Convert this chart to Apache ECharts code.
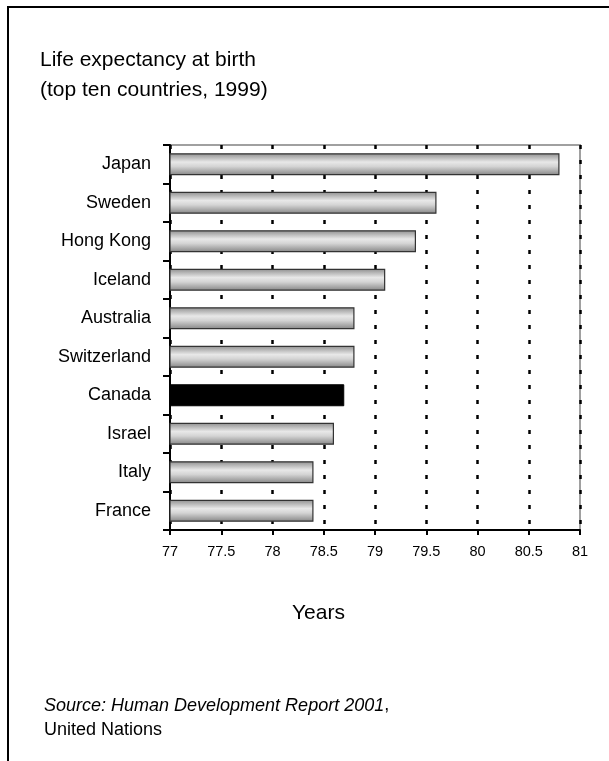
<!DOCTYPE html>
<html>
<head>
<meta charset="utf-8">
<script src="https://cdn.jsdelivr.net/npm/echarts@6/dist/echarts.min.js"></script>
<style>
html,body{margin:0;padding:0;background:#fff;}
#chart{width:609px;height:761px;}
</style>
</head>
<body>
<div id="chart"></div>
<script>
const countries = ['Japan','Sweden','Hong Kong','Iceland','Australia','Switzerland','Canada','Israel','Italy','France'];
const lifeExpectancy = [80.8, 79.6, 79.4, 79.1, 78.8, 78.8, 78.7, 78.6, 78.4, 78.4];
const highlighted = 'Canada';
const xMin = 77, xMax = 81, xStep = 0.5;

const FONT = '"Liberation Sans", Arial, sans-serif';
const grayGrad = {
  type: 'linear', x: 0, y: 0, x2: 0, y2: 1,
  colorStops: [
    {offset: 0, color: '#8e8e8e'},
    {offset: 0.4, color: '#e8e8e8'},
    {offset: 0.6, color: '#d4d4d4'},
    {offset: 1, color: '#858585'}
  ]
};

const chart = echarts.init(document.getElementById('chart'), null, {renderer: 'canvas'});
chart.setOption({
  animation: false,
  backgroundColor: '#fff',
  textStyle: {fontFamily: FONT},
  title: [
    {
      text: 'Life expectancy at birth\n(top ten countries, 1999)',
      left: 35, top: 40,
      textStyle: {fontFamily: FONT, fontSize: 21, fontWeight: 'normal', color: '#000', lineHeight: 30}
    },
    {
      text: 'Years',
      left: 287, top: 598,
      textStyle: {fontFamily: FONT, fontSize: 21, fontWeight: 'normal', color: '#000'}
    },
    {
      text: '{i|Source: Human Development Report 2001}{n|,}\n{n|United Nations}',
      left: 39, top: 688,
      textStyle: {
        fontFamily: FONT, fontSize: 18, fontWeight: 'normal', color: '#000', lineHeight: 25,
        rich: {
          i: {fontFamily: FONT, fontSize: 18, fontStyle: 'italic', fontWeight: 'normal', color: '#000', lineHeight: 25},
          n: {fontFamily: FONT, fontSize: 18, fontWeight: 'normal', color: '#000', lineHeight: 25}
        }
      }
    }
  ],
  graphic: [
    {type: 'polyline', silent: true, shape: {points: [[8, 761], [8, 7], [609, 7]]},
     style: {stroke: '#000', lineWidth: 2, fill: null}}
  ],
  grid: {
    left: 170, right: 29, top: 145, bottom: 231,
    show: true, borderColor: '#a0a0a0', borderWidth: 2, backgroundColor: '#fff'
  },
  xAxis: {
    type: 'value', min: xMin, max: xMax, interval: xStep,
    axisLine: {show: true, onZero: false, lineStyle: {color: '#000', width: 2}},
    axisTick: {show: true, length: 5, lineStyle: {color: '#000', width: 2}},
    axisLabel: {color: '#000', fontSize: 14.5, fontFamily: FONT, margin: 14},
    splitLine: {show: true, lineStyle: {color: '#000', width: 2.5, type: [4, 11]}}
  },
  yAxis: {
    type: 'category', data: countries, inverse: true,
    axisLine: {show: true, lineStyle: {color: '#000', width: 2}},
    axisTick: {show: true, length: 7, lineStyle: {color: '#000', width: 2}},
    axisLabel: {color: '#000', fontSize: 18, fontFamily: FONT, margin: 19},
    splitLine: {show: false}
  },
  series: [{
    type: 'bar',
    barWidth: 22,
    data: lifeExpectancy.map((v, i) => ({
      value: v,
      itemStyle: countries[i] === highlighted
        ? {color: '#000', borderColor: '#000', borderWidth: 1}
        : {color: grayGrad, borderColor: '#333', borderWidth: 1.2}
    }))
  }]
});
</script>
</body>
</html>
